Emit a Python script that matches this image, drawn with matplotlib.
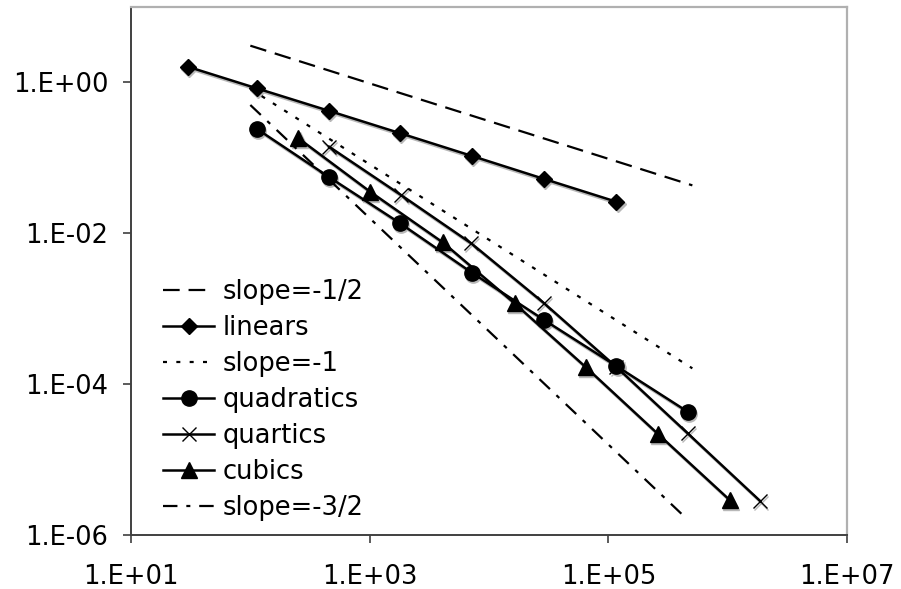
import numpy as np
import matplotlib
matplotlib.use("Agg")
import matplotlib.pyplot as plt
import matplotlib.transforms as mtransforms
from matplotlib.ticker import FixedLocator, FuncFormatter, NullLocator

plt.rcParams['font.family'] = ['DejaVu Sans']

# ---- data ----
lin_x = [29.8, 113, 452, 1803, 7194, 29000, 116700]
lin_y = [1.62, 0.836, 0.422, 0.212, 0.106, 0.0525, 0.0262]

quad_x = [114, 452, 1803, 7194, 29000, 116700, 462000]
quad_y = [0.241, 0.0562, 0.01355, 3.0e-3, 7.08e-4, 1.74e-4, 4.31e-5]

quart_x = [457, 1828, 7100, 29000, 116700, 462000, 1.86e6]
quart_y = [0.1406, 0.0322, 7.36e-3, 1.18e-3, 1.69e-4, 2.23e-5, 2.85e-6]

cub_x = [253, 1009, 4111, 16370, 65000, 261000, 1.04e6]
cub_y = [0.1816, 0.0356, 7.55e-3, 1.18e-3, 1.67e-4, 2.18e-5, 2.91e-6]

half_x = [100, 5.06e5]
half_y = [3.07, 0.0432]
one_x = [100, 5.06e5]
one_y = [0.82, 1.62e-4]
threehalf_x = [100, 4.33e5]
threehalf_y = [0.502, 1.76e-6]

x_ticks = [1e1, 1e3, 1e5, 1e7]
y_ticks = [1e-6, 1e-4, 1e-2, 1e0]

# ---- figure ----
fig = plt.figure(figsize=(9.01, 5.89), dpi=100)
ax = fig.add_axes([131/901, 1 - 535/589, (847-131)/901, (535-7)/589])
ax.set_xscale('log')
ax.set_yscale('log')
ax.set_xlim(1e1, 1e7)
ax.set_ylim(1e-6, 1e1)

shadow_tr = mtransforms.offset_copy(ax.transData, fig=fig, x=1.2, y=-2.0, units='dots')
lw = 1.8
series = [
    (lin_x, lin_y, dict(marker='D', ms=8)),
    (quad_x, quad_y, dict(marker='o', ms=11)),
    (quart_x, quart_y, dict(marker='x', ms=10, mew=1.0)),
    (cub_x, cub_y, dict(marker='^', ms=11)),
]
for sx, sy, kw in series:
    ax.plot(sx, sy, color='#b8b8b8', lw=lw, transform=shadow_tr, zorder=1, **kw)

ax.plot(half_x, half_y, color='black', lw=1.6, dashes=(7.5, 4), label='slope=-1/2', zorder=3)
ax.plot(lin_x, lin_y, color='black', lw=lw, marker='D', ms=8, label='linears', zorder=3)
ax.plot(one_x, one_y, color='black', lw=1.6, dashes=(1.8, 4.2), label='slope=-1', zorder=3)
ax.plot(quad_x, quad_y, color='black', lw=lw, marker='o', ms=11, label='quadratics', zorder=3)
ax.plot(quart_x, quart_y, color='black', lw=lw, marker='x', ms=10, mew=1.0, label='quartics', zorder=3)
ax.plot(cub_x, cub_y, color='black', lw=lw, marker='^', ms=11, label='cubics', zorder=3)
ax.plot(threehalf_x, threehalf_y, color='black', lw=1.6, dashes=(6.5, 4, 1.8, 4), label='slope=-3/2', zorder=3)

ax.xaxis.set_major_locator(FixedLocator(x_ticks))
ax.yaxis.set_major_locator(FixedLocator(y_ticks))
ax.xaxis.set_minor_locator(NullLocator())
ax.yaxis.set_minor_locator(NullLocator())
fmt = FuncFormatter(lambda v, p: "1.E%+03d" % int(round(np.log10(v))))
ax.xaxis.set_major_formatter(fmt)
ax.yaxis.set_major_formatter(fmt)
ax.tick_params(axis='both', direction='out', length=6, width=1.2, colors='#404040',
               labelcolor='black', labelsize=18.5)
ax.tick_params(axis='x', pad=15)
ax.tick_params(axis='y', pad=10.4)

for s in ['left', 'bottom']:
    ax.spines[s].set_color('#404040')
    ax.spines[s].set_linewidth(1.4)
for s in ['top', 'right']:
    ax.spines[s].set_color('#b0b0b0')
    ax.spines[s].set_linewidth(1.6)

leg = ax.legend(loc='upper left', bbox_to_anchor=(32/716, (535-279)/528), frameon=False,
                fontsize=18.5, handlelength=2.0, handletextpad=0.31, labelspacing=0.39,
                borderaxespad=0, borderpad=0, numpoints=1)

fig.savefig('out.png', dpi=100)
